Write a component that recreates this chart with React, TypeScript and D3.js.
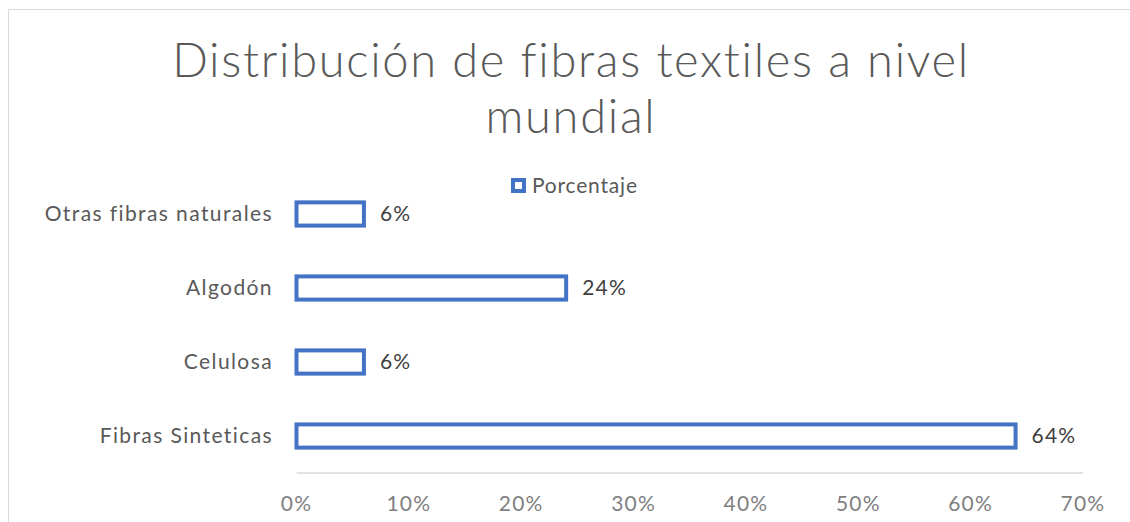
import React, { useRef, useEffect } from "react";
import * as d3 from "d3";

// categories listed bottom-to-top as in the spreadsheet
const categories = ["Fibras Sinteticas", "Celulosa", "Algodón", "Otras fibras naturales"];
const porcentaje = [0.64, 0.06, 0.24, 0.06];
const xTicks = [0, 0.1, 0.2, 0.3, 0.4, 0.5, 0.6, 0.7];
const titleLines = ["Distribución de fibras textiles a nivel", "mundial"];
const seriesName = "Porcentaje";

const FONT = "'Century Gothic', Lato, 'Noto Sans', sans-serif";
const BLUE = "#4472C4";

const App = () => {
  const svgRef = useRef<SVGSVGElement>(null);

  useEffect(() => {
    const width = 1130;
    const height = 522;
    const svg = d3.select(svgRef.current);
    svg.selectAll("*").remove();
    svg.attr("width", width).attr("height", height);

    // chart border
    svg
      .append("rect")
      .attr("x", 8.5)
      .attr("y", 9.5)
      .attr("width", width + 10)
      .attr("height", height + 10)
      .attr("fill", "#fff")
      .attr("stroke", "#d9d9d9");

    const x = d3.scaleLinear().domain([0, 0.7]).range([296.5, 1083]);
    const y = d3
      .scaleBand<string>()
      .domain(categories.slice().reverse())
      .range([177, 473])
      .paddingInner(0.6865)
      .paddingOuter(0.343);

    // title
    svg
      .append("text")
      .attr("text-anchor", "middle")
      .attr("font-family", FONT)
      .attr("font-weight", 300)
      .attr("font-size", 47)
      .attr("letter-spacing", 1.7)
      .attr("fill", "#595959")
      .selectAll("tspan")
      .data(titleLines)
      .enter()
      .append("tspan")
      .attr("x", 571)
      .attr("y", (_d, i) => 77 + i * 56)
      .text((d) => d);

    // legend
    svg
      .append("rect")
      .attr("x", 513)
      .attr("y", 180)
      .attr("width", 11)
      .attr("height", 11)
      .attr("fill", "#fff")
      .attr("stroke", BLUE)
      .attr("stroke-width", 4);
    svg
      .append("text")
      .attr("x", 532)
      .attr("y", 193)
      .attr("font-family", FONT)
      .attr("font-size", 21)
      .attr("letter-spacing", 0.8)
      .attr("fill", "#595959")
      .text(seriesName);

    // axis line
    svg
      .append("line")
      .attr("x1", x(0))
      .attr("x2", x(0.7))
      .attr("y1", 473)
      .attr("y2", 473)
      .attr("stroke", "#d9d9d9")
      .attr("stroke-width", 1.5);

    // x tick labels
    svg
      .append("g")
      .selectAll("text")
      .data(xTicks)
      .enter()
      .append("text")
      .attr("x", (d) => x(d))
      .attr("y", 511)
      .attr("text-anchor", "middle")
      .attr("font-family", FONT)
      .attr("font-size", 21)
      .attr("letter-spacing", 1.2)
      .attr("fill", "#7f7f7f")
      .text((d) => d3.format(".0%")(d));

    // category labels
    svg
      .append("g")
      .selectAll("text")
      .data(categories)
      .enter()
      .append("text")
      .attr("x", 273)
      .attr("y", (d) => (y(d) as number) + y.bandwidth() / 2)
      .attr("dy", "0.35em")
      .attr("text-anchor", "end")
      .attr("font-family", FONT)
      .attr("font-size", 21)
      .attr("letter-spacing", 1.4)
      .attr("fill", "#595959")
      .text((d) => d);

    // bars
    const bars = svg.append("g");
    bars
      .selectAll("rect")
      .data(categories)
      .enter()
      .append("rect")
      .attr("x", x(0))
      .attr("y", (d) => y(d) as number)
      .attr("width", (_d, i) => x(porcentaje[i]) - x(0))
      .attr("height", y.bandwidth())
      .attr("fill", "#fff")
      .attr("stroke", BLUE)
      .attr("stroke-width", 4);

    // data labels
    bars
      .selectAll("text")
      .data(categories)
      .enter()
      .append("text")
      .attr("x", (_d, i) => x(porcentaje[i]) + 16)
      .attr("y", (d) => (y(d) as number) + y.bandwidth() / 2)
      .attr("dy", "0.35em")
      .attr("font-family", FONT)
      .attr("font-size", 21)
      .attr("letter-spacing", 1.2)
      .attr("fill", "#404040")
      .text((_d, i) => d3.format(".0%")(porcentaje[i]));
  }, []);

  return (
    <div style={{ position: "absolute", left: 0, top: 0 }}>
      <svg ref={svgRef} style={{ display: "block" }}></svg>
    </div>
  );
};

export default App;
